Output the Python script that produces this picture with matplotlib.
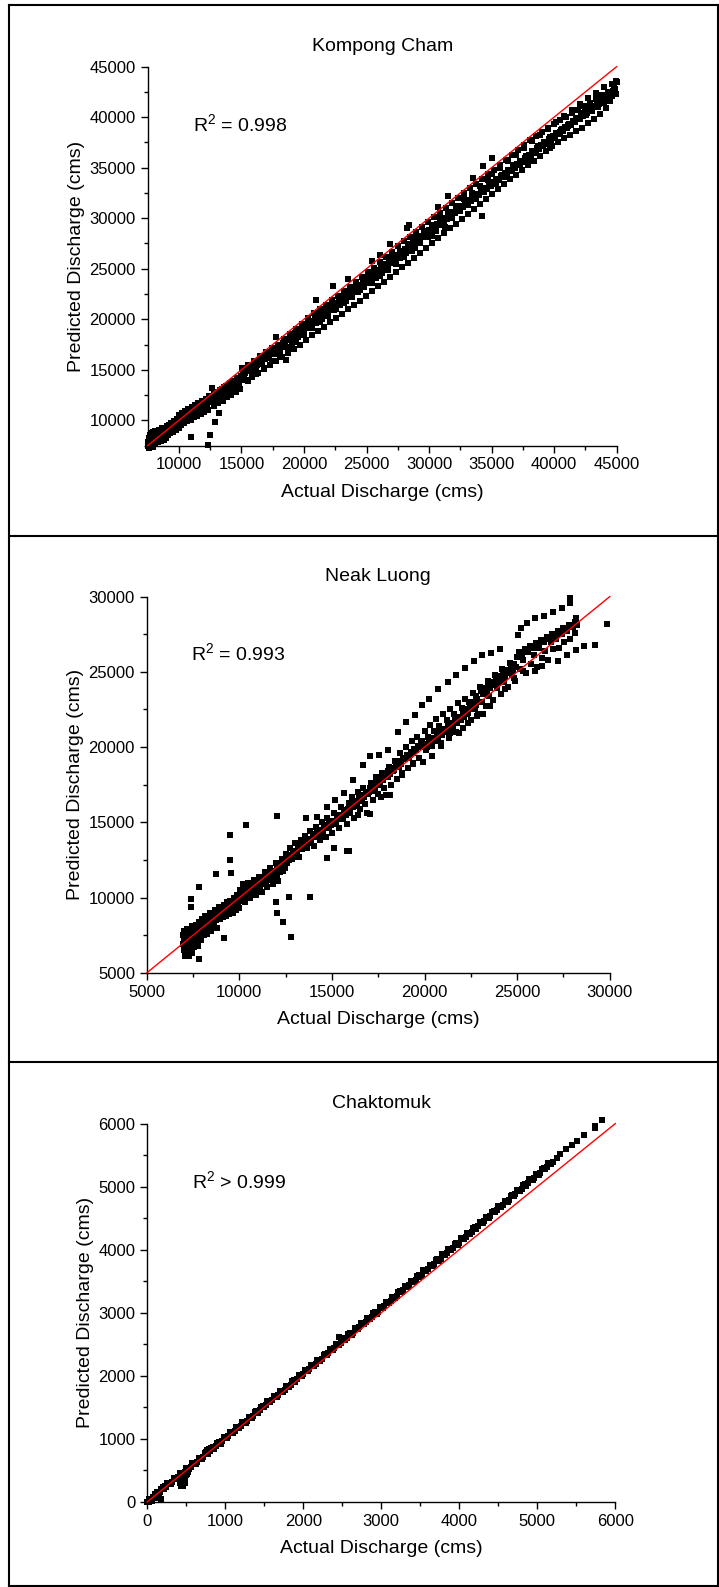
import matplotlib
matplotlib.use('Agg')
import matplotlib.pyplot as plt
from matplotlib.ticker import MultipleLocator
from matplotlib.lines import Line2D

plt.rcParams['font.family'] = ['Liberation Sans', 'DejaVu Sans']
plt.rcParams['mathtext.fontset'] = 'custom'
plt.rcParams['mathtext.rm'] = 'Liberation Sans'
plt.rcParams['mathtext.it'] = 'Liberation Sans:italic'

# ---------------- data (actual, predicted) ----------------
stations = ['Kompong Cham', 'Neak Luong', 'Chaktomuk']
r2_labels = ['R$^2$ = 0.998', 'R$^2$ = 0.993', 'R$^2$ > 0.999']
axis_limits = [(7500, 45000), (5000, 30000), (0, 6000)]
major_steps = [5000, 5000, 1000]

kc_points = [
    (7520, 7450), (7560, 7900), (7580, 8300), (7600, 7300), (7640, 7700), (7660, 8550), (7700, 8100), (7720, 7500), (7750, 7950), (7790, 8700),
    (7820, 7600), (7850, 8300), (7880, 7800), (7900, 8850), (7930, 7400), (7960, 8100), (8000, 8500), (8030, 7700), (8060, 8900), (8100, 8200),
    (8130, 7800), (8170, 8600), (8200, 8000), (8240, 8900), (8280, 8300), (8320, 7900), (8360, 8700), (8400, 8200), (8450, 9000), (8500, 8500),
    (8540, 8000), (8590, 8800), (8640, 8300), (8690, 9200), (8740, 8600), (8790, 8100), (8850, 9100), (8900, 8700), (8960, 8300), (9020, 9400),
    (9080, 8900), (9140, 8500), (9200, 9500), (9260, 9000), (9330, 8700), (9400, 9700), (9470, 9200), (9540, 8800), (9610, 9900), (9680, 9400),
    (9750, 9000), (9820, 10100), (9900, 9600), (9980, 9200),
    (10050, 10500), (10120, 9900), (10200, 9500), (10280, 10700), (10360, 10100), (10440, 9700), (10520, 10900), (10600, 10300), (10680, 9900), (10760, 11100),
    (10850, 10500), (10930, 10000), (11020, 11300), (11100, 10700), (11190, 10300), (11280, 11500), (11370, 10900), (11460, 10400), (11550, 11700), (11640, 11100),
    (11740, 10600), (11830, 11900), (11930, 11300), (12030, 10800), (12130, 12100), (12230, 11500), (12330, 11000), (12430, 12400), (12530, 11800), (12640, 13200),
    (12740, 12000), (12840, 11400), (12950, 12700), (13050, 12200), (13160, 11700), (13270, 13000), (13380, 12500), (13490, 11900), (13600, 13300), (13710, 12800),
    (13820, 12300), (13940, 13500), (14050, 13000), (14170, 12500), (14290, 13900), (14410, 13300), (14530, 12800), (14650, 14200), (14770, 13600), (14890, 13100),
    (15020, 15200), (15180, 14600), (15340, 14000), (15500, 15500), (15660, 14900), (15820, 14300), (15980, 15900), (16140, 15300), (16300, 14700), (16460, 16400),
    (16620, 15700), (16780, 15100), (16940, 16800), (17100, 16200), (17260, 15500), (17420, 17200), (17580, 16600), (17740, 15900), (17800, 18200), (17900, 17500),
    (18060, 16900), (18220, 16300), (18380, 18000), (18540, 17300), (18700, 16700), (18860, 18500), (19020, 17700), (19180, 17100), (19340, 19000), (19500, 18200),
    (19660, 17500), (19820, 19500), (19980, 18600), (20140, 17900), (20300, 20100), (20460, 19100), (20620, 18400), (20780, 20600), (20940, 19600), (21000, 21900),
    (21100, 18800), (21260, 21000), (21420, 20000), (21580, 19200), (21740, 21400), (21900, 20500), (22060, 19700), (22220, 21900), (22300, 23300), (22380, 20900),
    (22540, 20100), (22700, 22300), (22860, 21400), (23020, 20500), (23180, 22800), (23340, 21800), (23500, 24000), (23500, 21000), (23660, 23200), (23820, 22300),
    (23980, 21400), (24140, 23700), (24300, 22700), (24460, 21800), (24620, 24200), (24780, 23200), (24940, 22300),
    (25100, 24700), (25260, 23600), (25400, 25800), (25420, 22800), (25580, 25100), (25740, 24100), (25900, 23300), (26060, 25700), (26100, 26400), (26220, 24600),
    (26380, 23700), (26540, 26200), (26700, 25100), (26860, 24200), (26900, 27400), (27020, 26700), (27180, 25600), (27340, 24700), (27500, 27200), (27660, 26100),
    (27820, 25200), (27980, 27700), (28140, 26600), (28200, 29000), (28300, 25600), (28400, 29300), (28460, 28100), (28620, 27100), (28780, 26100), (28910, 27060),
    (28940, 28600), (29100, 27600), (29260, 26600), (29420, 29100), (29580, 28100), (29740, 27100), (29900, 29600), (30060, 28600), (30220, 27500), (30270, 28270),
    (30380, 30100), (30540, 29100), (30700, 31100), (30700, 28000), (30860, 30500), (31020, 29500), (31180, 28500), (31250, 29110), (31340, 31000), (31500, 32200),
    (31500, 30000), (31660, 29000), (31820, 31500), (31980, 30500), (32140, 29400), (32300, 32000), (32460, 31000), (32620, 29900), (32780, 32500), (32940, 31500),
    (33100, 30400), (33260, 33000), (33420, 32000), (33500, 34000), (33580, 30900), (33740, 33400), (33900, 32400), (34060, 31400), (34230, 30210), (34220, 33900),
    (34300, 35200), (34380, 32900), (34540, 31900), (34700, 34400), (34860, 33400), (35000, 36000),
    (35020, 32400), (35180, 34800), (35340, 33800), (35500, 32900), (35660, 35300), (35820, 34300), (35980, 33400), (36140, 35800), (36300, 34800), (36460, 33900),
    (36620, 36300), (36780, 35300), (36940, 34300), (37100, 36700), (37260, 35700), (37420, 34800), (37580, 37200), (37630, 35540), (37740, 36200), (37900, 35300),
    (37940, 35840), (38060, 37700), (38220, 36600), (38380, 35700), (38540, 38100), (38700, 37100), (38860, 36200), (39020, 38500), (39180, 37500), (39340, 36600),
    (39500, 38900), (39640, 36980), (39660, 38000), (39820, 37100), (39980, 39300),
    (40140, 38400), (40300, 37500), (40460, 39700), (40620, 38800), (40780, 37900), (40940, 40000), (41100, 39100), (41260, 38200), (41420, 40400), (41580, 39500),
    (41740, 38600), (41900, 40700), (42060, 39800), (42220, 38900), (42380, 41100), (42540, 40200), (42700, 39400), (42860, 41400), (43020, 40600), (43180, 39800),
    (43340, 41800), (43500, 41000), (43660, 40300), (43820, 42200), (43980, 41400), (44140, 40900), (44300, 42500), (44480, 41640), (44620, 42100), (44800, 42900),
    (44950, 43600), (44980, 42300), (45000, 43500),
    # isolated low points
    (12300, 7600), (12520, 8580), (10940, 8400), (12890, 9840), (13180, 10680), (18530, 16010),
]

# dense core of the Kompong Cham band
kc_core = [
    (7540, 7700), (7610, 8000), (7680, 7850), (7740, 8250), (7810, 8050), (7870, 8500), (7950, 7900), (8010, 8250), (8080, 8600), (8150, 8350),
    (8220, 8600), (8300, 8100), (8380, 8450), (8470, 8750), (8560, 8400), (8660, 8700), (8760, 8900), (8860, 8500), (8970, 8900), (9060, 9200),
    (9170, 9000), (9280, 9300), (9380, 9100), (9500, 9500), (9600, 9300), (9720, 9700), (9840, 9600), (9950, 9900),
    (10080, 10100), (10240, 10000), (10400, 10300), (10560, 10200), (10720, 10500), (10880, 10700), (11040, 10700), (11200, 11000), (11360, 11200), (11520, 11200),
    (11680, 11500), (11840, 11500), (12000, 11800), (12160, 11700), (12320, 12100), (12480, 12300), (12640, 12300), (12800, 12600), (12960, 12400), (13120, 12800),
    (13280, 12700), (13440, 13100), (13600, 12900), (13760, 13400), (13920, 13200), (14080, 13700), (14240, 13500), (14400, 13900), (14560, 13800), (14720, 14200), (14880, 14000),
    (15100, 14700), (15260, 14700), (15420, 15000), (15580, 14900), (15740, 15300), (15900, 15200), (16060, 15600), (16220, 15500), (16380, 15900), (16540, 15800),
    (16700, 16200), (16860, 16100), (17020, 16500), (17180, 16400), (17340, 16800), (17500, 16700), (17660, 17100), (17820, 17000), (17980, 17400), (18140, 17300),
    (18300, 17700), (18460, 17600), (18620, 18000), (18780, 17900), (18940, 18300), (19100, 18200), (19260, 18600), (19420, 18500), (19580, 18900), (19740, 18800),
    (19900, 19200), (20060, 19100), (20220, 19500), (20380, 19400), (20540, 19800), (20700, 19700), (20860, 20100), (21020, 20000), (21180, 20400), (21340, 20300),
    (21500, 20700), (21660, 20600), (21820, 21000), (21980, 20900), (22140, 21300), (22300, 21200), (22460, 21600), (22620, 21500), (22780, 21900), (22940, 21800),
    (23100, 22200), (23260, 22100), (23420, 22500), (23580, 22400), (23740, 22800), (23900, 22700), (24060, 23100), (24220, 23000), (24380, 23400), (24540, 23300),
    (24700, 23700), (24860, 23600),
    (25020, 24000), (25180, 24300), (25340, 24200), (25500, 24600), (25660, 24500), (25820, 24900), (25980, 24800), (26140, 25200), (26300, 25100), (26460, 25500),
    (26620, 25400), (26780, 25800), (26940, 25700), (27100, 26100), (27260, 26000), (27420, 26400), (27580, 26300), (27740, 26700), (27900, 26600), (28060, 27000),
    (28220, 26900), (28380, 27300), (28540, 27200), (28700, 27600), (28860, 27500), (29020, 27900), (29180, 27800), (29340, 28200), (29500, 28100), (29660, 28500),
    (29820, 28400), (29980, 28800), (30140, 28700), (30300, 29100), (30460, 29000), (30620, 29400), (30780, 29300), (30940, 29700), (31100, 29600), (31260, 30000),
    (31420, 29900), (31580, 30300), (31740, 30200), (31900, 30600), (32060, 30500), (32220, 30900), (32380, 30800), (32540, 31200), (32700, 31100), (32860, 31500),
    (33020, 31400), (33180, 31800), (33340, 31700), (33500, 32100), (33660, 32000), (33820, 32400), (33980, 32300), (34140, 32700), (34300, 32600), (34460, 33000),
    (34620, 32900), (34780, 33300), (34940, 33200),
    (35100, 33600), (35260, 33500), (35420, 33900), (35580, 33800), (35740, 34200), (35900, 34100), (36060, 34500), (36220, 34400), (36380, 34800), (36540, 34700),
    (36700, 35100), (36860, 35000), (37020, 35400), (37180, 35300), (37340, 35700), (37500, 35600), (37660, 36000), (37820, 35900), (37980, 36300), (38140, 36200),
    (38300, 36600), (38460, 36500), (38620, 36900), (38780, 36800), (38940, 37200), (39100, 37100), (39260, 37500), (39420, 37400), (39580, 37800), (39740, 37700),
    (39900, 38100), (40060, 38000), (40220, 38400), (40380, 38300), (40540, 38700), (40700, 38600), (40860, 39000), (41020, 38900), (41180, 39300), (41340, 39200),
    (41500, 39600), (41660, 39500), (41820, 39900), (41980, 39800), (42140, 40200), (42300, 40100), (42460, 40500), (42620, 40400), (42780, 40800), (42940, 40700),
    (43100, 41100), (43260, 41000), (43420, 41400), (43580, 41300), (43740, 41700), (43900, 41600), (44060, 42000), (44220, 41900), (44380, 42200), (44540, 42400),
    (44700, 42600), (44860, 42800),
]

# points filling the gaps of the Kompong Cham band
kc_fill = [
    (10160, 9700), (10480, 10000), (10800, 10400), (11120, 10600), (11440, 10900), (11760, 11200), (12080, 11500), (12400, 11900), (12720, 12200), (13040, 12500),
    (13360, 12800), (13680, 13100), (14000, 13400), (14320, 13700), (14640, 14000), (14960, 14400),
    (15200, 14400), (15520, 13900), (15840, 15000), (16160, 14600), (16480, 15600), (16800, 15200), (17120, 16300), (17440, 15900), (17760, 16900), (18080, 16500),
    (18400, 17600), (18720, 17100), (19040, 18200), (19360, 17800), (19680, 18900), (20000, 18400), (20320, 19500), (20640, 19100), (20960, 20200), (21280, 19700),
    (21600, 20800), (21920, 20300), (22240, 21400), (22560, 21000), (22880, 22100), (23200, 21600), (23520, 22700), (23840, 22200), (24160, 23300), (24480, 22900),
    (24800, 23900),
    (25120, 24200), (25440, 23600), (25760, 24800), (26080, 24300), (26400, 25500), (26720, 24900), (27040, 26100), (27360, 25500), (27680, 26800), (28000, 26200),
    (28320, 27400), (28640, 26800), (28960, 28000), (29280, 27500), (29600, 28700), (29920, 28100), (30240, 29300), (30560, 28700), (30880, 30000), (31200, 29400),
    (31520, 30600), (31840, 30000), (32160, 31200), (32480, 30700), (32800, 31900), (33120, 31300), (33440, 32500), (33760, 31900), (34080, 33200), (34400, 32600),
    (34720, 33800),
    (35040, 34400), (35360, 33400), (35680, 35000), (36000, 34100), (36320, 35700), (36640, 34700), (36960, 36300), (37280, 35400), (37600, 36900), (37920, 36000),
    (38240, 37600), (38560, 36600), (38880, 38200), (39200, 37300), (39520, 38800), (39840, 37900), (40160, 39500), (40480, 38500), (40800, 40100), (41120, 39200),
    (41440, 40700), (41760, 39800), (42080, 41300), (42400, 40400), (42720, 41900), (43040, 41100), (43360, 42400), (43680, 41700), (44000, 43000), (44320, 42300),
    (44640, 43300), (44900, 42700),
]

nl_points = [
    (6950, 7500), (6980, 6900), (7000, 7200), (7020, 6500), (7040, 7800), (7060, 6100), (7080, 7000), (7100, 7600), (7120, 6700), (7140, 6200),
    (7160, 7300), (7180, 7900), (7200, 6800), (7230, 6400), (7250, 7500), (7280, 7100), (7300, 6100), (7320, 7700), (7350, 6600), (7380, 7300),
    (7400, 6900), (7420, 8100), (7450, 6300), (7480, 7600), (7500, 7000), (7540, 7900), (7570, 6700), (7600, 7400), (7640, 8200), (7680, 7100),
    (7720, 7700), (7760, 6800), (7800, 8400), (7840, 7500), (7880, 7900), (7920, 7200), (7960, 8600), (8000, 7700),
    (8050, 8200), (8100, 7500), (8150, 8800), (8200, 8000), (8250, 7600), (8300, 8600), (8350, 8100), (8400, 9000), (8450, 7800), (8500, 8400),
    (8560, 8900), (8620, 8100), (8680, 9200), (8740, 8500), (8800, 8000), (8860, 8900), (8920, 9400), (8980, 8600), (9040, 9000), (9100, 8700),
    (9160, 9500), (9220, 9100), (9280, 8800), (9340, 9700), (9400, 9200), (9460, 8900), (9520, 9800), (9580, 9300), (9640, 9000), (9700, 10000),
    (9760, 9500), (9820, 9200), (9880, 10200), (9940, 9600),
    (10000, 9300), (10060, 10500), (10120, 9800), (10180, 10900), (10240, 10100), (10300, 9700), (10360, 10600), (10420, 10200), (10480, 11000), (10540, 10300),
    (10600, 10000), (10660, 10800), (10720, 10400), (10780, 11200), (10840, 10500), (10900, 10200), (10960, 11100), (11020, 10600), (11080, 11400), (11140, 10800),
    (11200, 10400), (11260, 11300), (11320, 10900), (11380, 11700), (11440, 11000), (11500, 10700), (11560, 11600), (11620, 11200), (11680, 12000), (11740, 11300),
    (11800, 10900), (11860, 11800), (11920, 11400), (11980, 12300), (12040, 11500), (12100, 11100), (12160, 12100), (12220, 11700), (12280, 12600), (12340, 11800),
    (12400, 12400), (12460, 12000),
    (12520, 12900), (12600, 12300), (12680, 12700), (12760, 13300), (12840, 12600), (12920, 13000), (13000, 13600), (13080, 12900), (13160, 13400), (13240, 12700),
    (13320, 13800), (13400, 13200), (13480, 13600), (13560, 14100), (13640, 13300), (13720, 13900), (13800, 14400), (13880, 13600), (13960, 14200), (14040, 13400),
    (14120, 14700), (14200, 14000), (14280, 14500), (14360, 13800), (14440, 15000), (14520, 14300), (14600, 14800), (14680, 14000), (14760, 15300), (14840, 14600),
    (14920, 15100),
    (15000, 14300), (15100, 15600), (15200, 14900), (15300, 15400), (15400, 14600), (15500, 16000), (15600, 15200), (15700, 15800), (15800, 14900), (15900, 16300),
    (16000, 15600), (16100, 16700), (16200, 15300), (16300, 16100), (16400, 17000), (16500, 15900), (16600, 16500), (16700, 17300), (16800, 16200), (16900, 15600),
    (17000, 17000), (17100, 17600), (17200, 16500), (17300, 17200), (17400, 18000), (17500, 16900), (17600, 17500), (17700, 18300), (17800, 17300), (17900, 16800),
    (18000, 18000), (18100, 18700), (18200, 17500), (18300, 18400), (18400, 19100), (18500, 17900), (18600, 18700), (18700, 19600), (18800, 18300), (18900, 19200),
    (19000, 20000), (19100, 18600), (19200, 19500), (19300, 20400), (19400, 18900), (19500, 19900), (19600, 20700), (19700, 19300), (19800, 20300), (19900, 19000),
    (20000, 21100), (20100, 19800), (20200, 20700), (20300, 21500), (20400, 20100), (20500, 21100), (20600, 21900), (20700, 20500), (20800, 21400), (20900, 20100),
    (21000, 22200), (21100, 21000), (21200, 21800), (21300, 20600), (21400, 22500), (21500, 21400), (21600, 22200), (21700, 21000), (21800, 22900), (21900, 21800),
    (22000, 22600), (22100, 21300), (22200, 23200), (22300, 22200), (22400, 23000), (22500, 21800), (22600, 23600), (22700, 22600), (22800, 23400), (22900, 22200),
    (23000, 24000), (23100, 23000), (23200, 23800), (23300, 22700), (23400, 24400), (23500, 23400), (23600, 24200), (23700, 23100), (23800, 24800), (23900, 23900),
    (24000, 24600), (24100, 23500), (24200, 25200), (24300, 24300), (24400, 25000), (24500, 24000), (24600, 25600), (24700, 24800), (24800, 25400), (24900, 24400),
    (25000, 26000), (25150, 25200), (25300, 25800), (25450, 24900), (25600, 26300), (25750, 25500), (25900, 26100), (26050, 25300), (26200, 26600), (26350, 25900),
    (26500, 26400), (26650, 25800), (26800, 27000), (26950, 26500), (27100, 27200), (27250, 26600), (27400, 27500), (27550, 27000), (27700, 27700), (27850, 27200),
    (28000, 28000), (28100, 27600), (28200, 28400), (28250, 28100),
]

# dense core of the Neak Luong band
nl_core = [
    (7030, 7000), (7110, 7300), (7190, 7100), (7270, 7400), (7350, 7200), (7430, 7600), (7510, 7400), (7590, 7800), (7670, 7600), (7750, 7300),
    (7830, 7800), (7910, 8000), (7990, 8200), (8070, 7900), (8150, 8300), (8230, 8400), (8310, 8200), (8390, 8600), (8470, 8500), (8550, 8700),
    (8630, 8600), (8710, 8900), (8790, 8700), (8870, 9100), (8950, 8900), (9030, 9300), (9110, 9100), (9190, 9400), (9270, 9300), (9350, 9500),
    (9430, 9400), (9510, 9600), (9590, 9700), (9670, 9600), (9750, 9900), (9830, 9800), (9910, 10000),
    (10020, 10000), (10140, 10300), (10260, 10400), (10380, 10500), (10500, 10600), (10620, 10500), (10740, 10800), (10860, 10900), (10980, 10900), (11100, 11100),
    (11220, 11000), (11340, 11300), (11460, 11400), (11580, 11400), (11700, 11600), (11820, 11500), (11940, 11800), (12060, 11900), (12180, 11900), (12300, 12200),
    (12420, 12200), (12540, 12500), (12660, 12500), (12780, 12800), (12900, 12700), (13020, 13100), (13140, 13000), (13260, 13300), (13380, 13400), (13500, 13400),
    (13620, 13700), (13740, 13600), (13860, 13900), (13980, 14000), (14100, 14000), (14220, 14300), (14340, 14200), (14460, 14500), (14580, 14600), (14700, 14600),
    (14820, 14900), (14940, 14800),
    (15050, 15100), (15150, 15000), (15250, 15300), (15350, 15200), (15450, 15500), (15550, 15400), (15650, 15700), (15750, 15500), (15850, 15900), (15950, 15800),
    (16050, 16100), (16150, 16000), (16250, 16400), (16350, 16200), (16450, 16600), (16550, 16400), (16650, 16800), (16750, 16700), (16850, 17000), (16950, 16900),
    (17050, 17300), (17150, 17100), (17250, 17500), (17350, 17400), (17450, 17700), (17550, 17600), (17650, 17900), (17750, 17800), (17850, 18200), (17950, 18100),
    (18050, 18400), (18150, 18200), (18250, 18600), (18350, 18500), (18450, 18800), (18550, 18700), (18650, 19100), (18750, 18900), (18850, 19300), (18950, 19200),
    (19050, 19500), (19150, 19300), (19250, 19700), (19350, 19600), (19450, 19900), (19550, 19800), (19650, 20100), (19750, 20000), (19850, 20400), (19950, 20200),
    (20050, 20200), (20150, 20000), (20250, 20400), (20350, 20200), (20450, 20600), (20550, 20400), (20650, 20800), (20750, 20600), (20850, 21000), (20950, 20800),
    (21050, 21200), (21150, 21000), (21250, 21400), (21350, 21200), (21450, 21600), (21550, 21400), (21650, 21800), (21750, 21600), (21850, 22000), (21950, 21800),
    (22050, 22200), (22150, 22000), (22250, 22500), (22350, 22300), (22450, 22700), (22550, 22500), (22650, 23000), (22750, 22800), (22850, 23200), (22950, 23000),
    (23050, 23700), (23150, 23500), (23250, 23900), (23350, 23700), (23450, 24100), (23550, 23900), (23650, 24300), (23750, 24100), (23850, 24500), (23950, 24300),
    (24050, 24700), (24150, 24500), (24250, 24900), (24350, 24700), (24450, 25100), (24550, 24900), (24650, 25300), (24750, 25100), (24850, 25500), (24950, 25300),
    (25100, 26300), (25250, 26100), (25400, 26500), (25550, 26400), (25700, 26700), (25850, 26600), (26000, 26900), (26150, 26800), (26300, 27100), (26450, 27000),
    (26600, 27300), (26750, 27200), (26900, 27500), (27050, 27400), (27200, 27700), (27350, 27600), (27500, 27900), (27650, 27800), (27800, 28100), (27950, 28000),
    (28100, 28300), (28200, 28600),
]

nl_outliers = [
    (7400, 9920), (7400, 9400), (7800, 10710), (8740, 11540), (9490, 14170), (9490, 12480), (9560, 11650), (10360, 14840), (12040, 15400), (11990, 9740),
    (12060, 9000), (12380, 8390), (12810, 7380), (12700, 10030), (13800, 10010), (14720, 12660), (15810, 13110), (9190, 7300), (7800, 5920), (7250, 6200),
    (27866, 29896), (27866, 29559), (27444, 29222), (26948, 28952), (26452, 28705), (25956, 28570), (25534, 28255), (25212, 27895), (25038, 27445), (24096, 26523),
    (23600, 26253), (23104, 26141), (22682, 25736), (22186, 25286), (21690, 24791), (21244, 24296), (20748, 23847), (20252, 23217), (19880, 22767), (19508, 22137),
    (19012, 21643), (18541, 21013), (18020, 19798), (17524, 19506), (17028, 19394), (16656, 18786), (16110, 17819), (15664, 16920), (15168, 16470), (14722, 16020),
    (14176, 15390), (13581, 15278),
    (29874, 28209), (29205, 26815), (28634, 26748), (28188, 26478), (27692, 26096), (27196, 25736), (26328, 25398), (25956, 25061), (25336, 25061), (24840, 24566),
    (24344, 23892), (23550, 22722), (23178, 22205), (22856, 22092), (22360, 21598), (21864, 20968), (21368, 20968), (20872, 20293), (20376, 19439), (19384, 18944),
    (18764, 18157), (18144, 16807), (17648, 16695), (17028, 15570), (16408, 15458), (15912, 13096), (15118, 13321),
]

ck_points = [
    (0, 5), (40, 52), (80, 74), (120, 133), (160, 150), (200, 214), (240, 235), (280, 296), (320, 312), (360, 378),
    (400, 398), (440, 458), (480, 476), (520, 540), (560, 558), (600, 620), (640, 640), (680, 701), (720, 718), (760, 784),
    (800, 800), (840, 864), (880, 880), (920, 946), (960, 960), (1000, 1028), (1040, 1042), (1080, 1110), (1120, 1122), (1160, 1190),
    (1200, 1205), (1240, 1272), (1280, 1286), (1320, 1354), (1360, 1368), (1400, 1436), (1440, 1450), (1480, 1518), (1520, 1532), (1560, 1600),
    (1600, 1614), (1640, 1682), (1680, 1696), (1720, 1764), (1760, 1778), (1800, 1846), (1840, 1860), (1880, 1928), (1920, 1942), (1960, 2010),
    (2000, 2024), (2040, 2094), (2080, 2106), (2120, 2176), (2160, 2190), (2200, 2258), (2240, 2272), (2280, 2342), (2320, 2354), (2360, 2424),
    (2400, 2437), (2440, 2508), (2480, 2520), (2520, 2590), (2560, 2603), (2600, 2674), (2640, 2686), (2680, 2756), (2720, 2769), (2760, 2840),
    (2800, 2852), (2840, 2922), (2880, 2936), (2920, 3006), (2960, 3018), (3000, 3090), (3040, 3102), (3080, 3172), (3120, 3186), (3160, 3256),
    (3200, 3270), (3240, 3340), (3280, 3354), (3320, 3424), (3360, 3438), (3400, 3508), (3440, 3522), (3480, 3592), (3520, 3606), (3560, 3676),
    (3600, 3690), (3640, 3762), (3680, 3774), (3720, 3846), (3760, 3858), (3800, 3930), (3840, 3944), (3880, 4014), (3920, 4028), (3960, 4100),
    (4000, 4114), (4040, 4184), (4080, 4198), (4120, 4270), (4160, 4282), (4200, 4354), (4240, 4368), (4280, 4440), (4320, 4452), (4360, 4524),
    (4400, 4538), (4440, 4610), (4480, 4622), (4520, 4696), (4560, 4708), (4600, 4780), (4640, 4794), (4680, 4866), (4720, 4880), (4760, 4952),
    (4800, 4964), (4840, 5036), (4880, 5050), (4920, 5122), (4960, 5136), (5000, 5208), (5040, 5222), (5080, 5294), (5120, 5306), (5160, 5378),
    (5200, 5392), (5250, 5460), (5293, 5510), (5364, 5590), (5440, 5660), (5510, 5723), (5600, 5814), (5736, 5937), (5736, 5960), (5825, 6055),
    # low-flow spread and small bumps
    (20, 5), (60, 20), (100, 60), (140, 59), (150, 110), (180, 40), (130, 150), (200, 230), (230, 260),
    (420, 300), (430, 260), (440, 280), (450, 270), (455, 250), (460, 330), (470, 360), (480, 300), (490, 390), (500, 420),
    (510, 450), (520, 470), (770, 820), (787, 836), (2463, 2617), (2480, 2600),
]

ck_fill = [
    (20, 50), (60, 35), (100, 131), (140, 116), (180, 212), (220, 197), (260, 293), (300, 278), (340, 374), (380, 359),
    (420, 455), (460, 440), (500, 536), (540, 521), (580, 617), (620, 602), (660, 698), (700, 683), (740, 779), (780, 764),
    (820, 860), (860, 845), (900, 941), (940, 926), (980, 1022), (1020, 1007), (1060, 1103), (1100, 1089), (1140, 1185), (1180, 1170),
    (1220, 1266), (1260, 1252), (1300, 1348), (1340, 1334), (1380, 1430), (1420, 1416), (1460, 1512), (1500, 1498), (1540, 1594), (1580, 1580),
    (1620, 1676), (1660, 1662), (1700, 1758), (1740, 1744), (1780, 1841), (1820, 1827), (1860, 1923), (1900, 1909), (1940, 2005), (1980, 1992),
    (2020, 2088), (2060, 2074), (2100, 2170), (2140, 2157), (2180, 2253), (2220, 2239), (2260, 2336), (2300, 2322), (2340, 2419), (2380, 2405),
    (2420, 2502), (2460, 2488), (2500, 2585), (2540, 2571), (2580, 2668), (2620, 2654), (2660, 2751), (2700, 2737), (2740, 2834), (2780, 2820),
    (2820, 2917), (2860, 2904), (2900, 3000), (2940, 2987), (2980, 3084), (3020, 3071), (3060, 3167), (3100, 3154), (3140, 3251), (3180, 3238),
    (3220, 3335), (3260, 3322), (3300, 3419), (3340, 3406), (3380, 3503), (3420, 3490), (3460, 3587), (3500, 3574), (3540, 3671), (3580, 3658),
    (3620, 3755), (3660, 3743), (3700, 3840), (3740, 3827), (3780, 3924), (3820, 3912), (3860, 4009), (3900, 3996), (3940, 4094), (3980, 4081),
    (4020, 4179), (4060, 4166), (4100, 4263), (4140, 4251), (4180, 4348), (4220, 4336), (4260, 4433), (4300, 4421), (4340, 4518), (4380, 4506),
    (4420, 4604), (4460, 4591), (4500, 4689), (4540, 4677), (4580, 4774), (4620, 4762), (4660, 4859), (4700, 4847), (4740, 4945), (4780, 4933),
    (4820, 5030), (4860, 5018), (4900, 5116), (4940, 5104), (4980, 5201), (5020, 5189), (5060, 5287), (5100, 5275), (5140, 5373), (5180, 5360),
]

panel_points = [kc_points + kc_core + kc_fill, nl_points + nl_core + nl_outliers, ck_points + ck_fill]

# ---------------- layout (pixels in the 719x1587 figure) ----------------
W, H = 719, 1587
axes_px = [(147.6, 66.6, 616.7, 445.6), (146.7, 596.6, 609.8, 972.9), (147.2, 1123.6, 615.3, 1501.9)]

fig = plt.figure(figsize=(W / 100, H / 100), dpi=100)

for i in range(3):
    l, t, r, b = axes_px[i]
    ax = fig.add_axes([l / W, 1 - b / H, (r - l) / W, (b - t) / H])
    lo, hi = axis_limits[i]
    xs = [p[0] for p in panel_points[i]]
    ys = [p[1] for p in panel_points[i]]
    ax.plot(xs, ys, 's', color='black', markersize=4.0, markeredgewidth=0, clip_on=False, zorder=2)
    ax.plot([lo, hi], [lo, hi], '-', color='#ff0000', lw=1.0, zorder=3, clip_on=False)
    ax.set_xlim(lo, hi)
    ax.set_ylim(lo, hi)
    ax.xaxis.set_major_locator(MultipleLocator(major_steps[i]))
    ax.yaxis.set_major_locator(MultipleLocator(major_steps[i]))
    ax.xaxis.set_minor_locator(MultipleLocator(major_steps[i] / 2))
    ax.yaxis.set_minor_locator(MultipleLocator(major_steps[i] / 2))
    if i == 0:
        ax.set_xticks([10000, 15000, 20000, 25000, 30000, 35000, 40000, 45000])
        ax.set_yticks([10000, 15000, 20000, 25000, 30000, 35000, 40000, 45000])
    for s in ['top', 'right']:
        ax.spines[s].set_visible(False)
    for s in ['left', 'bottom']:
        ax.spines[s].set_linewidth(1.0)
    ax.tick_params(which='major', direction='out', length=5, width=1.0, labelsize=12, pad=3.5)
    ax.tick_params(which='minor', direction='out', length=2.8, width=1.0)
    ax.set_xlabel('Actual Discharge (cms)', fontsize=14, labelpad=8)
    ax.set_ylabel('Predicted Discharge (cms)', fontsize=14, labelpad=3)
    ax.set_title(stations[i], fontsize=14, pad=11)
    ax.text(0.096, 0.83, r2_labels[i], transform=ax.transAxes, fontsize=14, va='baseline', ha='left')

# panel frames
def hline(y, x0=9, x1=717.5):
    fig.add_artist(Line2D([x0 / W, x1 / W], [1 - y / H, 1 - y / H], transform=fig.transFigure, color='black', lw=1.5))

def vline(x, y0=5, y1=1586):
    fig.add_artist(Line2D([x / W, x / W], [1 - y0 / H, 1 - y1 / H], transform=fig.transFigure, color='black', lw=1.5))

for y in [5, 535.5, 1062, 1586]:
    hline(y)
vline(9)
vline(717.5)

fig.savefig('out.png', dpi=100)
